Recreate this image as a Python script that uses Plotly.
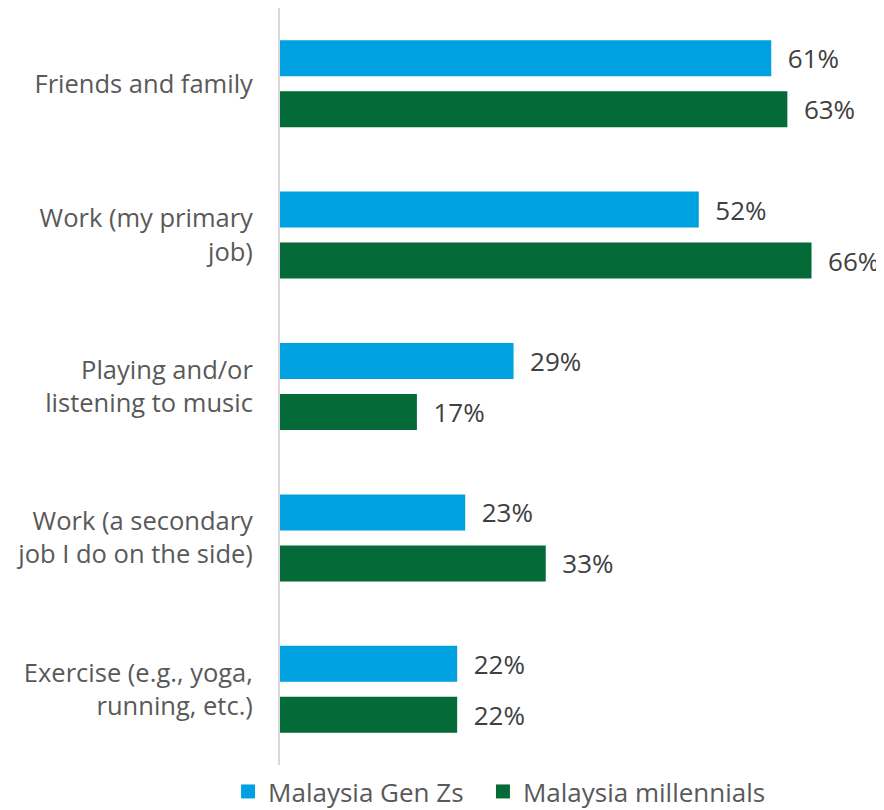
import plotly.graph_objects as go

categories = ["Friends and family", "Work (my primary<br>job)", "Playing and/or<br>listening to music",
              "Work (a secondary<br>job I do on the side)", "Exercise (e.g., yoga,<br>running, etc.)"]
genz = [61, 52, 29, 23, 22]
millennials = [63, 66, 17, 33, 22]
series_names = ["Malaysia Gen Zs", "Malaysia millennials"]
colors = ["#00A1E0", "#046A38"]
legend_ids = ["legend", "legend2"]

font_family = "Open Sans, Liberation Sans, sans-serif"
FS = 25.5

fig = go.Figure()
for name, vals, col in zip(series_names, [genz, millennials], colors):
    fig.add_trace(go.Bar(
        y=categories, x=vals, orientation="h", name=name, showlegend=False,
        marker=dict(color=col, line=dict(width=0)),
        text=[f"\u00a0\u00a0{v}%" for v in vals], textposition="outside",
        constraintext="none",
        textfont=dict(size=26, color="#404040", family=font_family),
        cliponaxis=False,
    ))
# legend entries (square markers)
for name, col, lid in zip(series_names, colors, legend_ids):
    fig.add_trace(go.Scatter(
        x=[None], y=[None], mode="markers", name=name, legend=lid,
        marker=dict(symbol="square", size=14, color=col),
    ))

leg_common = dict(orientation="h", yref="container", y=0.023, yanchor="middle", xanchor="left",
                  font=dict(size=26, color="#595959", family=font_family),
                  itemwidth=30, bgcolor="rgba(0,0,0,0)")

fig.update_layout(
    width=876, height=802,
    margin=dict(l=272, r=0, t=0, b=45, autoexpand=False),
    paper_bgcolor="white", plot_bgcolor="white",
    barmode="group", bargap=0.326, bargroupgap=0.294,
    font=dict(family=font_family, size=FS, color="#595959"),
    showlegend=True,
    legend=dict(x=-0.086, **leg_common),
    legend2=dict(x=0.336, **leg_common),
    xaxis=dict(range=[0, 75], showgrid=False, showticklabels=False, zeroline=False,
               showline=False, fixedrange=True, automargin=False),
    yaxis=dict(autorange="reversed", showgrid=False, showline=True, linecolor="#D9D9D9",
               linewidth=2, ticks="", ticklabelstandoff=20, automargin=False,
               tickfont=dict(size=FS, color="#595959")),
)

fig.write_html("out.html")
